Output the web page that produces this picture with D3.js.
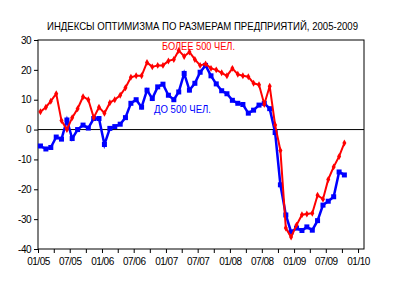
<!DOCTYPE html>
<html>
<head>
<meta charset="utf-8">
<script src="https://cdn.jsdelivr.net/npm/d3@7/dist/d3.min.js"></script>
<style>
body { margin: 0; background: #fff; }
text { font-family: "Liberation Sans", Arial, sans-serif; }
</style>
</head>
<body>
<svg width="400" height="284"></svg>
<script>
// monthly index, Jan 2005 .. Oct 2009
var months = d3.timeMonth.range(new Date(2005, 0, 1), new Date(2009, 10, 1));

var bigFirms = [6, 7.5, 9.5, 12, 3, 0, 4, 7, 11, 10, 4, 7.5,
	5.5, 9, 10, 11.5, 14, 17.5, 18, 18, 22.5, 21, 21.5, 21.5,
	23, 23.5, 26.5, 24.5, 26, 23.5, 21.5, 22, 20.5, 20, 19, 18,
	20.5, 18.5, 18, 17.7, 15.5, 15, 8.5, 14.5, 1.5, -7, -33, -36,
	-32, -28.5, -28.3, -28, -22, -23.3, -16.7, -12.5, -9, -4.5];

var smallFirms = [-5.5, -6.5, -6, -2.5, -3.2, 3.2, -3, 0, 1.5, 0.5, 3.7, 3.7,
	-5, 0.4, 1, 1.8, 4, 8.8, 10, 7.5, 13.2, 10.4, 14.3, 15.2,
	11.5, 10, 12.6, 18.8, 13.2, 15.5, 19.2, 21.5, 18, 15.3, 13, 12,
	9.8, 8.8, 8.4, 5.5, 6.5, 8.2, 8.8, 7, -1, -18.5, -28.6, -34.3,
	-33, -33.8, -32.6, -33.7, -30.5, -25.3, -24, -22.5, -14.2, -15.2];

var yTicks = [-40, -30, -20, -10, 0, 10, 20, 30];
var title = 'ИНДЕКСЫ ОПТИМИЗМА ПО РАЗМЕРАМ ПРЕДПРИЯТИЙ, 2005-2009';
var bigLabel = 'БОЛЕЕ 500 ЧЕЛ.';
var smallLabel = 'ДО 500 ЧЕЛ.';

var svg = d3.select('svg');
var plotLeft = 38, plotRight = 364, plotTop = 40, plotBottom = 249;

var x = d3.scaleTime()
	.domain([new Date(2005, 0, 1), new Date(2010, 1, 4)])
	.range([plotLeft, plotRight]);
var y = d3.scaleLinear().domain([-40, 30]).range([plotBottom, plotTop]);

// points sit in the middle of their month
function mid(d) { return d3.timeDay.offset(d, 14); }

svg.append('text')
	.attr('x', 202.5)
	.attr('y', 30)
	.attr('text-anchor', 'middle')
	.attr('font-size', 11)
	.attr('textLength', 311)
	.attr('lengthAdjust', 'spacingAndGlyphs')
	.text(title);

// frame
svg.append('rect')
	.attr('x', plotLeft).attr('y', plotTop)
	.attr('width', plotRight - plotLeft).attr('height', plotBottom - plotTop)
	.attr('fill', 'none').attr('stroke', '#000').attr('stroke-width', 1);

svg.append('line')
	.attr('x1', plotLeft).attr('x2', plotRight)
	.attr('y1', y(0)).attr('y2', y(0))
	.attr('stroke', '#000');

var yAxis = d3.axisLeft(y)
	.tickValues(yTicks)
	.tickSize(4)
	.tickPadding(3)
	.tickFormat(function(d) { return String(d); });

var xAxis = d3.axisBottom(x)
	.ticks(d3.timeMonth.every(3))
	.tickSize(4)
	.tickPadding(5)
	.tickFormat(function(d) {
		return d.getMonth() % 6 == 0 ? d3.timeFormat('%m/%y')(d) : '';
	});

var yG = svg.append('g').attr('transform', 'translate(' + plotLeft + ',0)').call(yAxis);
var xG = svg.append('g').attr('transform', 'translate(0,' + plotBottom + ')').call(xAxis);

[yG, xG].forEach(function(g) {
	g.select('.domain').remove();
	g.selectAll('line').attr('stroke', '#000');
	g.selectAll('text')
		.attr('fill', '#000')
		.attr('font-size', 10)
		.attr('font-family', '"Liberation Sans", Arial, sans-serif')
		.attr('letter-spacing', -0.5);
});

var line = d3.line()
	.x(function(d, i) { return x(mid(months[i])); })
	.y(function(d) { return y(d); });

// small firms (blue squares)
svg.append('path')
	.datum(smallFirms)
	.attr('d', line)
	.attr('fill', 'none')
	.attr('stroke', '#0000ff')
	.attr('stroke-width', 2.5);

svg.append('g').selectAll('rect')
	.data(smallFirms)
	.enter()
	.append('rect')
	.attr('x', function(d, i) { return x(mid(months[i])) - 2.5; })
	.attr('y', function(d) { return y(d) - 2.5; })
	.attr('width', 5).attr('height', 5)
	.attr('fill', '#0000ff');

// big firms (red diamonds)
svg.append('path')
	.datum(bigFirms)
	.attr('d', line)
	.attr('fill', 'none')
	.attr('stroke', '#ff0000')
	.attr('stroke-width', 2);

svg.append('g').selectAll('path')
	.data(bigFirms)
	.enter()
	.append('path')
	.attr('d', d3.symbol(d3.symbolDiamond, 14))
	.attr('transform', function(d, i) {
		return 'translate(' + x(mid(months[i])) + ',' + y(d) + ')';
	})
	.attr('fill', '#ff0000');

svg.append('text')
	.attr('x', 162).attr('y', 50)
	.attr('font-size', 10)
	.attr('textLength', 73)
	.attr('lengthAdjust', 'spacingAndGlyphs')
	.attr('fill', '#ff0000')
	.text(bigLabel);

svg.append('text')
	.attr('x', 154).attr('y', 113)
	.attr('font-size', 10)
	.attr('textLength', 57)
	.attr('lengthAdjust', 'spacingAndGlyphs')
	.attr('fill', '#0000ff')
	.text(smallLabel);
</script>
</body>
</html>
